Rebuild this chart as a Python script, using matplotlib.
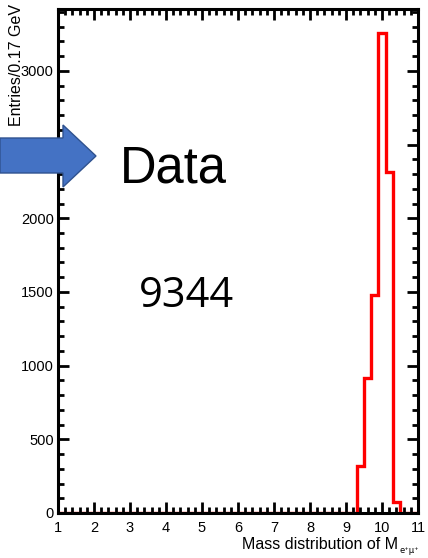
import matplotlib
matplotlib.use("Agg")
import matplotlib.pyplot as plt
from matplotlib.patches import Polygon
from matplotlib.ticker import MultipleLocator

# Histogram of the e+mu+ invariant mass
bin_edges = [1.0, 9.3, 9.5, 9.7, 9.9, 10.1, 10.3, 10.5, 11.0]
counts = [0, 320, 916, 1480, 3259, 2315, 77, 0]
total_label = "9344"

x_range = (1, 11)
y_range = (0, 3420)
x_ticks = [1, 2, 3, 4, 5, 6, 7, 8, 9, 10, 11]
y_ticks = [0, 500, 1000, 1500, 2000, 2500, 3000]

W, H = 428, 558
fig = plt.figure(figsize=(W / 100, H / 100), dpi=100)
plt.rcParams['font.family'] = ['Liberation Sans', 'DejaVu Sans']
plt.rcParams['mathtext.fontset'] = 'custom'
plt.rcParams['mathtext.rm'] = 'Liberation Sans'
plt.rcParams['mathtext.it'] = 'Liberation Sans'

ax = fig.add_axes([58 / W, 1 - 513 / H, 360 / W, 504 / H])
ax.stairs(counts, bin_edges, color="#ff0000", linewidth=2.4, zorder=1)

ax.set_xlim(*x_range)
ax.set_ylim(*y_range)
ax.set_xticks(x_ticks)
ax.set_yticks(y_ticks)
ax.xaxis.set_minor_locator(MultipleLocator(0.2))
ax.yaxis.set_minor_locator(MultipleLocator(100))
ax.tick_params(which="both", direction="in", top=True, right=True,
               width=2.0, color="black", labelsize=10.5)
ax.tick_params(which="major", length=8, pad=3)
ax.tick_params(which="minor", length=4.5)
ax.tick_params(axis="x", pad=6)
for s in ax.spines.values():
    s.set_linewidth(2.2)
    s.set_zorder(3)

fig.text(17 / W, 1 - 4 / H, "Entries/0.17 GeV", rotation=90,
         ha="center", va="top", fontsize=11.5)
fig.text(398 / W, 1 - 549 / H, "Mass distribution of M",
         ha="right", va="baseline", fontsize=11.5)
fig.text(399 / W, 1 - 553 / H, "e\u207a\u03bc\u207a",
         ha="left", va="baseline", fontsize=6, family=["DejaVu Sans"])

# Annotation arrow and labels
arrow_px = [(0, 138), (63, 138), (63, 125), (96, 156), (63, 187), (63, 173), (0, 173)]
arrow = Polygon([(x / W, 1 - y / H) for x, y in arrow_px], closed=True,
                facecolor="#4472C4", edgecolor="#2F528F", linewidth=1,
                transform=fig.transFigure, zorder=5)
fig.patches.append(arrow)

fig.text(120 / W, 1 - 182 / H, "Data", fontsize=36.5, ha="left",
         va="baseline", family=["Liberation Sans"])
fig.text(139 / W, 1 - 307 / H, total_label, fontsize=30, ha="left",
         va="baseline", family=["Open Sans"])

fig.savefig("out.png", dpi=100)
